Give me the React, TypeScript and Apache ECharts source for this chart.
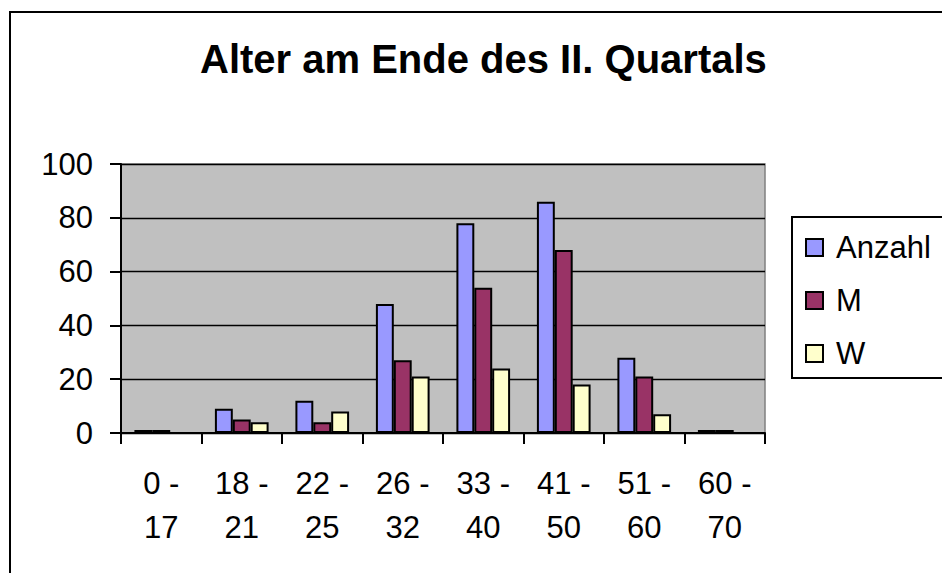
import React, { useEffect, useRef } from "react";
import * as echarts from "echarts";

const titleText = "Alter am Ende des II. Quartals";
const categories = ["0 - 17", "18 - 21", "22 - 25", "26 - 32", "33 - 40", "41 - 50", "51 - 60", "60 - 70"];
const seriesNames = ["Anzahl", "M", "W"];
const anzahl = [0, 9, 12, 48, 78, 86, 28, 0];
const maenner = [0, 5, 4, 27, 54, 68, 21, 0];
const weiber = [null, 4, 8, 21, 24, 18, 7, null];
const seriesColors = ["#9999FF", "#993366", "#FFFFCC"];
const yMin = 0;
const yMax = 100;
const yStep = 20;

const FONT = "'Liberation Sans', Arial, Helvetica, sans-serif";

export default function App() {
  const ref = useRef<HTMLDivElement>(null);
  useEffect(() => {
    if (!ref.current) return;
    const chart = echarts.init(ref.current, undefined, { renderer: "svg" });
    const values = [anzahl, maenner, weiber];
    chart.setOption({
      animation: false,
      backgroundColor: "#FFFFFF",
      textStyle: { fontFamily: FONT },
      title: {
        text: titleText,
        left: 200,
        top: 39,
        padding: 0,
        textStyle: { fontFamily: FONT, fontSize: 40, fontWeight: "bold", color: "#000" },
      },
      graphic: [
        {
          type: "rect",
          z: -10,
          shape: { x: 10, y: 12, width: 960, height: 600 },
          style: { fill: "none", stroke: "#000", lineWidth: 2 },
        },
        {
          type: "rect",
          z: -5,
          shape: { x: 792, y: 217, width: 200, height: 161 },
          style: { fill: "#FFFFFF", stroke: "#000", lineWidth: 2 },
        },
      ],
      legend: {
        orient: "vertical",
        left: 805,
        top: 232,
        padding: 0,
        itemGap: 22,
        itemWidth: 17,
        itemHeight: 17,
        icon: "rect",
        textStyle: { fontFamily: FONT, fontSize: 31, color: "#000", padding: [0, 0, 0, 8] },
        data: seriesNames,
      },
      grid: {
        left: 121,
        top: 164,
        right: 177,
        bottom: 140,
        show: true,
        backgroundColor: "#C0C0C0",
        borderColor: "#808080",
        borderWidth: 1.5,
      },
      xAxis: {
        type: "category",
        data: categories,
        axisLine: { show: true, lineStyle: { color: "#000", width: 2 } },
        axisTick: { show: true, length: 11, lineStyle: { color: "#000", width: 2 } },
        axisLabel: {
          color: "#000",
          fontFamily: FONT,
          fontSize: 31,
          lineHeight: 44,
          margin: 28,
          interval: 0,
          formatter: (v: string) => v.replace(" - ", " -\n"),
        },
        splitLine: { show: false },
      },
      yAxis: {
        type: "value",
        min: yMin,
        max: yMax,
        interval: yStep,
        axisLine: { show: true, lineStyle: { color: "#000", width: 2 } },
        axisTick: { show: true, length: 11, lineStyle: { color: "#000", width: 2 } },
        axisLabel: { color: "#000", fontFamily: FONT, fontSize: 31, margin: 28 },
        splitLine: { show: true, lineStyle: { color: "#000", width: 1.3 } },
      },
      series: seriesNames.map((name, i) => ({
        name,
        type: "bar",
        data: values[i],
        barGap: "0%",
        barCategoryGap: "33.3%",
        barMinHeight: 3,
        itemStyle: { color: seriesColors[i], borderColor: "#000", borderWidth: 2 },
      })),
    });
    return () => chart.dispose();
  }, []);
  return <div ref={ref} style={{ position: "fixed", left: 0, top: 0, width: 942, height: 573 }} />;
}
